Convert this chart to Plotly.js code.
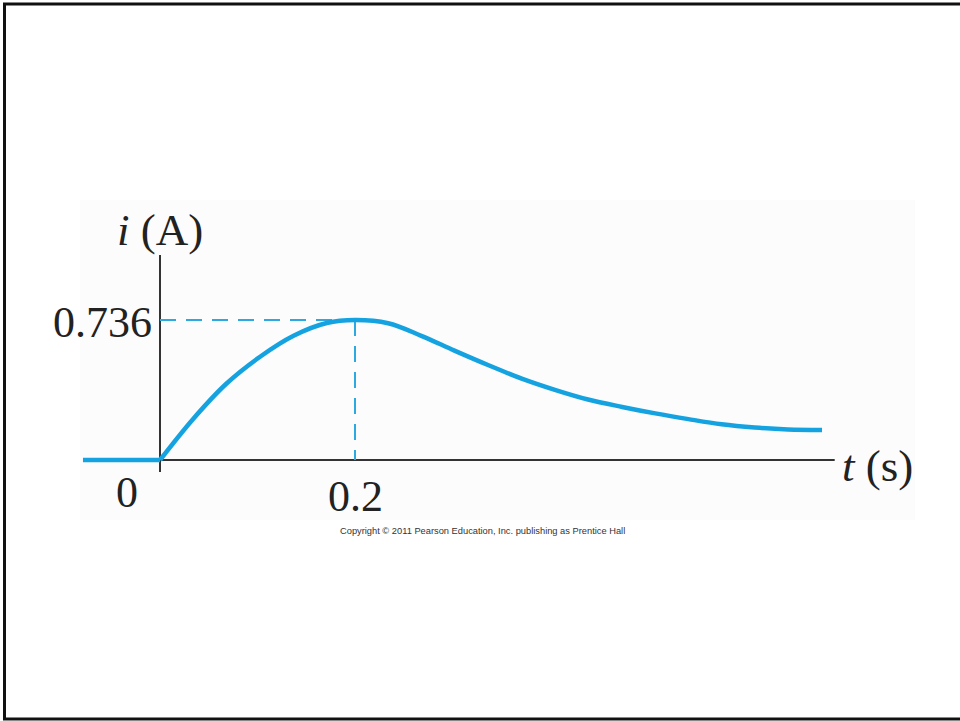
<!DOCTYPE html>
<html>
<head>
<meta charset="utf-8">
<script src="https://cdn.plot.ly/plotly-3.0.1.min.js"></script>
<style>html,body{margin:0;padding:0;background:#fff;}#chart{width:960px;height:721px;}</style>
</head>
<body>
<div id="chart"></div>
<script>
// Data
const flatT = [-0.079, 0];
const flatI = [0, 0];
const tValues = [0, 0.034, 0.068, 0.103, 0.137, 0.171, 0.2,
                 0.234, 0.268, 0.302, 0.337, 0.371, 0.405, 0.439, 0.474, 0.508, 0.542, 0.576, 0.610, 0.644, 0.679];
const iValues = [0, 0.216, 0.401, 0.544, 0.653, 0.720, 0.736,
                 0.719, 0.653, 0.575, 0.498, 0.428, 0.369, 0.318, 0.279, 0.245, 0.215, 0.188, 0.171, 0.161, 0.158];
const peakT = 0.2;
const peakI = 0.736;
const xTickLabels = ["0.2"];
const yTickLabels = ["0.736"];
const originLabel = "0";
const yAxisTitle = "<i>i</i> (A)";
const xAxisTitle = "<i>t</i> (s)";
const copyrightText = "Copyright © 2011 Pearson Education, Inc. publishing as Prentice Hall";

const blue = "#14a3e0";
const dashBlue = "#2ba9e0";

const traces = [
  { x: [0, peakT], y: [peakI, peakI], mode: "lines", line: { color: dashBlue, width: 2, dash: "16px,10px" }, hoverinfo: "skip" },
  { x: [peakT, peakT], y: [peakI, 0], mode: "lines", line: { color: dashBlue, width: 2, dash: "16px,10px" }, hoverinfo: "skip" },
  { x: flatT, y: flatI, mode: "lines", line: { color: blue, width: 4.5 }, hoverinfo: "skip" },
  { x: tValues, y: iValues, mode: "lines", line: { color: blue, width: 4.5, shape: "spline", smoothing: 1 }, hoverinfo: "skip" }
];

const serif = "Liberation Serif, Times New Roman, serif";
const txt = "#222";
const layout = {
  width: 960, height: 721,
  margin: { l: 0, r: 0, t: 0, b: 0 },
  paper_bgcolor: "#ffffff",
  plot_bgcolor: "rgba(0,0,0,0)",
  showlegend: false,
  xaxis: { range: [-0.16410, 0.82051], visible: false, fixedrange: true },
  yaxis: { range: [-1.3722, 2.4185], visible: false, fixedrange: true },
  shapes: [
    { type: "rect", xref: "paper", yref: "paper", x0: 80/960, x1: 915/960, y0: 1 - 520/721, y1: 1 - 200/721, fillcolor: "#fcfcfc", line: { width: 0 }, layer: "below" },
    { type: "rect", xref: "paper", yref: "paper", x0: 4.5/960, x1: 1.01, y0: 2/721, y1: 1 - 4/721, line: { color: "#111", width: 3 }, fillcolor: "rgba(0,0,0,0)", layer: "above" },
    { type: "line", xref: "x", yref: "y", x0: 0, x1: 0, y0: -0.063, y1: 1.078, line: { color: "#333", width: 2 }, layer: "below" },
    { type: "line", xref: "x", yref: "y", x0: 0, x1: 0.692, y0: 0, y1: 0, line: { color: "#333", width: 2 }, layer: "below" }
  ],
  annotations: [
    { x: 0, y: 1.21, xref: "x", yref: "y", text: yAxisTitle, showarrow: false, xanchor: "center", yanchor: "middle", font: { family: serif, size: 45, color: txt } },
    { x: 0.693, y: 0, xref: "x", yref: "y", text: xAxisTitle, showarrow: false, xanchor: "left", yanchor: "middle", xshift: 4, yshift: -6, font: { family: serif, size: 45, color: txt } },
    { x: 0, y: peakI, xref: "x", yref: "y", text: yTickLabels[0], showarrow: false, xanchor: "right", yanchor: "middle", xshift: -6, yshift: -2, font: { family: serif, size: 44, color: txt } },
    { x: peakT, y: 0, xref: "x", yref: "y", text: xTickLabels[0], showarrow: false, xanchor: "center", yanchor: "top", yshift: -10, font: { family: serif, size: 44, color: txt } },
    { x: 0, y: 0, xref: "x", yref: "y", text: originLabel, showarrow: false, xanchor: "right", yanchor: "top", xshift: -20, yshift: -6, font: { family: serif, size: 44, color: txt } },
    { x: 0.5, y: 1 - 531/721, xref: "paper", yref: "paper", text: copyrightText, showarrow: false, xanchor: "center", yanchor: "middle", xshift: 2, font: { family: "Liberation Sans, Arial, sans-serif", size: 9.3, color: "#333" } }
  ]
};

Plotly.newPlot("chart", traces, layout, { staticPlot: true, displayModeBar: false });
</script>
</body>
</html>
